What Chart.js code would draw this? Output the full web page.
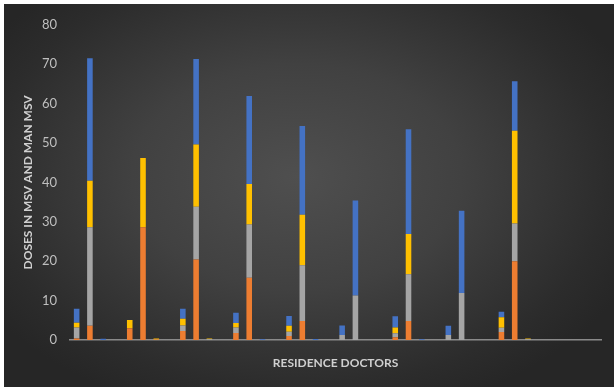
<!DOCTYPE html>
<html>
<head>
<meta charset="utf-8">
<script src="https://cdn.jsdelivr.net/npm/chart.js@4.4.0/dist/chart.umd.min.js"></script>
<style>
  html, body { margin: 0; padding: 0; background: #ffffff; }
  #wrap {
    position: absolute; left: 4px; top: 4px; width: 610px; height: 383px;
    background: radial-gradient(ellipse 60% 65% at 48% 45%, #4f4f4f 0%, #414141 45%, #2c2c2c 85%, #262626 100%);
  }
  canvas { display: block; }
</style>
</head>
<body>
<div id="wrap"><canvas id="c" width="610" height="383"></canvas></div>
<script>
// Ten doctors, four slots each (three readings plus a spacer slot)
const categories = [
  'D1 a','D1 b','D1 c','',  'D2 a','D2 b','D2 c','',
  'D3 a','D3 b','D3 c','',  'D4 a','D4 b','D4 c','',
  'D5 a','D5 b','D5 c','',  'D6 a','D6 b','D6 c','',
  'D7 a','D7 b','D7 c','',  'D8 a','D8 b','D8 c','',
  'D9 a','D9 b','D9 c','',  'D10 a','D10 b','D10 c',''
];

const seriesOrange = [
  0.4, 3.6, 0, null,   3.0, 28.6, 0.1, null,  2.3, 20.4, 0, null,   1.8, 15.8, 0, null,
  1.0, 4.8, 0, null,   0, 0, null, null,      0.7, 4.8, 0, null,    0, 0, null, null,
  2.0, 20.0, 0, null,  null, null, null, null
];
const seriesGray = [
  2.8, 25.0, 0, null,  0, 0, 0, null,         1.4, 13.4, 0.2, null, 1.4, 13.5, 0, null,
  1.1, 14.2, 0, null,  1.3, 11.3, null, null, 1.0, 11.9, 0, null,   1.3, 11.9, null, null,
  1.1, 9.6, 0.2, null, null, null, null, null
];
const seriesYellow = [
  1.2, 11.8, 0, null,  2.1, 17.6, 0.3, null,  1.7, 15.8, 0.2, null, 1.1, 10.3, 0, null,
  1.5, 12.8, 0, null,  0, 0, null, null,      1.5, 10.2, 0, null,   0, 0, null, null,
  2.7, 23.5, 0.2, null, null, null, null, null
];
const seriesBlue = [
  3.5, 31.1, 0.3, null, 0, 0, 0, null,        2.5, 21.7, 0, null,   2.6, 22.3, 0.2, null,
  2.5, 22.5, 0.25, null, 2.4, 24.1, null, null, 2.8, 26.6, 0.2, null, 2.3, 20.9, null, null,
  1.4, 12.6, 0, null,  null, null, null, null
];

const yTicks = [0, 10, 20, 30, 40, 50, 60, 70, 80];

const barCommon = { barPercentage: 0.42, categoryPercentage: 1.0, borderWidth: 0 };

new Chart(document.getElementById('c'), {
  type: 'bar',
  data: {
    labels: categories,
    datasets: [
      { label: 'Series 1', data: seriesOrange, backgroundColor: '#ED7D31', ...barCommon },
      { label: 'Series 2', data: seriesGray,   backgroundColor: '#A5A5A5', ...barCommon },
      { label: 'Series 3', data: seriesYellow, backgroundColor: '#FFC000', ...barCommon },
      { label: 'Series 4', data: seriesBlue,   backgroundColor: '#4472C4', ...barCommon }
    ]
  },
  options: {
    responsive: false,
    animation: false,
    layout: { padding: { top: 15, right: 13, left: 0, bottom: 0 } },
    plugins: { legend: { display: false }, tooltip: { enabled: true } },
    scales: {
      x: {
        stacked: true,
        grid: { display: false },
        border: { display: true, color: '#8a8a8a', width: 1.5 },
        ticks: { display: false },
        title: {
          display: true,
          text: 'RESIDENCE DOCTORS',
          color: '#d0d0d0',
          font: { family: 'Lato', size: 12, weight: 'bold' },
          padding: { top: 0, bottom: 17 }
        },
        afterFit: (s) => { s.height = 47; }
      },
      y: {
        stacked: true,
        min: 0,
        max: 80,
        afterBuildTicks: (s) => { s.ticks = yTicks.map(v => ({ value: v })); },
        grid: { display: false, drawTicks: false },
        border: { display: false },
        ticks: {
          color: '#bfbfbf',
          padding: 13,
          font: { family: 'Lato', size: 13 }
        },
        title: {
          display: true,
          text: 'DOSES IN MSV AND MAN MSV',
          color: '#d0d0d0',
          font: { family: 'Lato', size: 12, weight: 'bold' },
          padding: { top: 17, bottom: 0 }
        },
        afterFit: (s) => { s.width = 66; }
      }
    }
  }
});
</script>
</body>
</html>
